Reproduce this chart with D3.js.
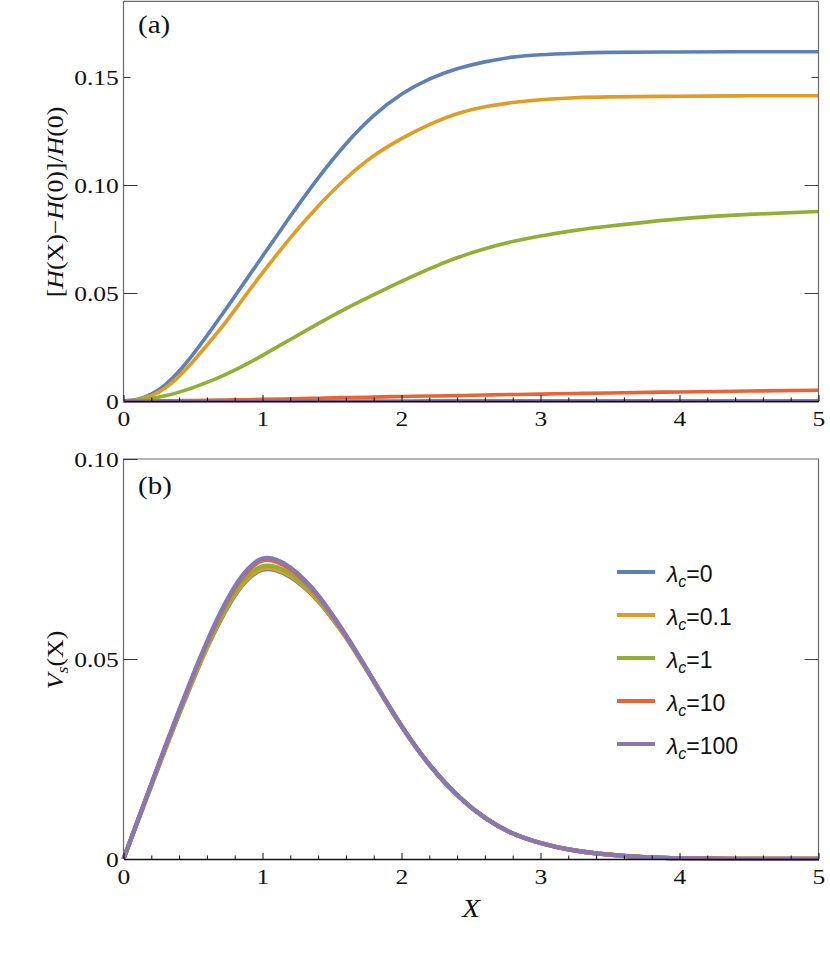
<!DOCTYPE html>
<html><head><meta charset="utf-8">
<script src="https://cdn.jsdelivr.net/npm/d3@7"></script>
<style>body{margin:0;background:#fff}</style>
</head><body>
<svg id="c" width="830" height="962"></svg>
<script>
// ---------- data ----------
const lambdaLabels = ["0", "0.1", "1", "10", "100"];
const colors = ["#5E81B5", "#E19C24", "#8FB032", "#EB6235", "#8778B3"];

// panel (a): [H(X)-H(0)]/H(0)
const xTop = [0,0.1,0.2,0.3,0.4,0.5,0.6,0.7,0.8,0.9,1.0,1.2,1.4,1.6,1.8,2.0,2.2,2.4,2.6,2.8,3.0,3.25,3.5,4.0,4.5,5.0];
const hL0   = [0,0.0008,0.0032,0.0075,0.0138,0.0216,0.0302,0.0392,0.0484,0.0577,0.0670,0.0855,0.1032,0.1190,0.1321,0.1420,0.1490,0.1538,0.1570,0.1592,0.1603,0.1610,0.1614,0.1616,0.1617,0.1617];
const hL01  = [0,0.0006,0.0025,0.0060,0.0115,0.0183,0.0258,0.0336,0.0421,0.0508,0.0593,0.0755,0.0902,0.1030,0.1135,0.1215,0.1280,0.1330,0.1362,0.1382,0.1395,0.1404,0.1408,0.1411,0.1413,0.1413];
const hL1   = [0,0.0003,0.0011,0.0024,0.0041,0.0062,0.0086,0.0113,0.0143,0.0176,0.0211,0.0285,0.0358,0.0428,0.0492,0.0554,0.0612,0.0663,0.0705,0.0738,0.0764,0.0790,0.0810,0.0843,0.0864,0.0877];
const hL10  = [0,0.00002,0.00005,0.0001,0.00015,0.0002,0.0003,0.0004,0.0005,0.0006,0.0008,0.0010,0.0013,0.0016,0.0018,0.0021,0.0023,0.0025,0.0028,0.0030,0.0032,0.0035,0.0037,0.0042,0.0046,0.0050];
const hL100 = [0,0,0,0,0,0,0,0,0,0,0.00001,0.00001,0.00002,0.00002,0.00003,0.00003,0.00004,0.00004,0.00005,0.00005,0.00006,0.00006,0.00007,0.00008,0.00009,0.0001];

// panel (b): V_s(X)
const xBot = [0,0.1,0.2,0.3,0.4,0.5,0.6,0.7,0.8,0.9,1.0,1.1,1.2,1.3,1.4,1.5,1.6,1.7,1.8,2.0,2.2,2.4,2.6,2.8,3.0,3.2,3.4,3.6,3.8,4.0,4.5,5.0];
const vL0   = [0,0.0092,0.0183,0.0274,0.0362,0.0447,0.0527,0.0598,0.0658,0.0701,0.0723,0.0721,0.0705,0.0679,0.0645,0.0602,0.0554,0.0500,0.0444,0.0332,0.0236,0.0160,0.0103,0.0064,0.0040,0.0024,0.0014,0.0008,0.0004,0.0002,0.00004,0.00001];
const vL01  = [0,0.0092,0.0184,0.0275,0.0364,0.0449,0.0529,0.0601,0.0661,0.0704,0.0726,0.0724,0.0708,0.0681,0.0647,0.0603,0.0555,0.0501,0.0444,0.0332,0.0236,0.0160,0.0103,0.0064,0.0040,0.0024,0.0014,0.0008,0.0004,0.0002,0.00004,0.00001];
const vL1   = [0,0.0093,0.0185,0.0277,0.0366,0.0452,0.0533,0.0605,0.0666,0.0710,0.0732,0.0730,0.0713,0.0685,0.0650,0.0605,0.0556,0.0502,0.0445,0.0332,0.0236,0.0160,0.0103,0.0064,0.0040,0.0024,0.0014,0.0008,0.0004,0.0002,0.00004,0.00001];
const vL10  = [0,0.0094,0.0187,0.0280,0.0370,0.0457,0.0540,0.0614,0.0677,0.0722,0.0746,0.0743,0.0724,0.0695,0.0657,0.0610,0.0558,0.0503,0.0445,0.0333,0.0236,0.0160,0.0103,0.0064,0.0040,0.0024,0.0014,0.0008,0.0004,0.0002,0.00004,0.00001];
const vL100 = [0,0.0094,0.0188,0.0281,0.0372,0.0460,0.0543,0.0618,0.0681,0.0727,0.0751,0.0748,0.0729,0.0699,0.0660,0.0612,0.0560,0.0504,0.0446,0.0333,0.0236,0.0160,0.0103,0.0064,0.0040,0.0024,0.0014,0.0008,0.0004,0.0002,0.00004,0.00001];

const xTickValues = [0, 1, 2, 3, 4, 5];
const topYTicks = [0, 0.05, 0.10, 0.15];
const topYTickLabels = ["0", "0.05", "0.10", "0.15"];
const botYTicks = [0, 0.05, 0.10];
const botYTickLabels = ["0", "0.05", "0.10"];

// ---------- drawing ----------
const svg = d3.select("#c");
const SERIF = "Liberation Serif";
const SANS = "Liberation Sans";
const SX = 1.16;

const x = d3.scaleLinear([0, 5], [123.5, 818.5]);
const yTop = d3.scaleLinear([0, 0.185], [401, 1.4]);
const yBot = d3.scaleLinear([0, 0.1], [859, 459]);

function panel(y, yTicks, yLabels, seriesX, seriesY, sw) {
  const g = svg.append("g");
  const [y0, y1] = [y.range()[0], y.range()[1]];
  const [x0, x1] = x.range();
  const line = d3.line().x(d => x(d[0])).y(d => y(d[1])).curve(d3.curveNatural);
  seriesY.forEach((vals, i) => {
    g.append("path")
      .datum(seriesX.map((xv, k) => [xv, vals[k]]))
      .attr("d", line)
      .attr("fill", "none")
      .attr("stroke", colors[i])
      .attr("stroke-width", sw)
      .attr("stroke-linejoin", "round");
  });
  // frame (left, top, right)
  g.append("path")
    .attr("d", `M${x0},${y0}V${y1}H${x1}V${y0}`)
    .attr("fill", "none").attr("stroke", "#6b6b6b").attr("stroke-width", 1.2);

  // bottom axis (major)
  const ax = g.append("g").attr("transform", `translate(0,${y0})`)
    .call(d3.axisBottom(x).tickValues(xTickValues).tickSizeInner(-6).tickSizeOuter(0).tickPadding(9)
      .tickFormat(d3.format("d")));
  ax.select(".domain").attr("stroke", "#111").attr("stroke-width", 1.4);
  ax.selectAll(".tick line").attr("stroke", "#111");
  ax.selectAll(".tick text").attr("font-family", SERIF).attr("font-size", 22).attr("fill", "#111")
    .attr("transform", `scale(${SX},1)`);
  // bottom axis (minor)
  const minor = d3.range(1, 25).map(k => k * 0.2).filter(v => Math.abs(v - Math.round(v)) > 1e-6);
  const axm = g.append("g").attr("transform", `translate(0,${y0})`)
    .call(d3.axisBottom(x).tickValues(minor).tickSizeInner(-3.5).tickSizeOuter(0).tickFormat(""));
  axm.select(".domain").remove();
  axm.selectAll(".tick line").attr("stroke", "#111");

  // left axis
  const ay = g.append("g").attr("transform", `translate(${x0},0)`)
    .call(d3.axisLeft(y).tickValues(yTicks).tickSizeInner(-14).tickSizeOuter(0).tickPadding(4)
      .tickFormat((d, i) => yLabels[i]));
  ay.select(".domain").remove();
  ay.selectAll(".tick line").attr("stroke", "#333")
    .attr("x2", d => d === 0 ? 0 : (Math.abs(d - 0.15) < 1e-9 ? 7 : 14));
  ay.selectAll(".tick text").attr("font-family", SERIF).attr("font-size", 22).attr("fill", "#111")
    .attr("transform", `scale(${SX},1)`);
  // right axis ticks
  const ar = g.append("g").attr("transform", `translate(${x1},0)`)
    .call(d3.axisRight(y).tickValues(yTicks.filter(v => v > 0 && y(v) > y1 + 2)).tickSizeInner(-14).tickSizeOuter(0).tickFormat(""));
  ar.select(".domain").remove();
  ar.selectAll(".tick line").attr("stroke", "#444")
    .attr("x2", d => (Math.abs(d - 0.15) < 1e-9 ? -7 : -14));
  return g;
}

panel(yTop, topYTicks, topYTickLabels, xTop, [hL0, hL01, hL1, hL10, hL100], 3.6);
panel(yBot, botYTicks, botYTickLabels, xBot, [vL0, vL01, vL1, vL10, vL100], 4.2);

// panel tags
svg.append("text").attr("transform", `translate(138,33) scale(${SX},1)`)
  .attr("font-family", SERIF).attr("font-size", 25).attr("fill", "#111").text("(a)");
svg.append("text").attr("transform", `translate(138,494) scale(${SX},1)`)
  .attr("font-family", SERIF).attr("font-size", 25).attr("fill", "#111").text("(b)");

// y labels
const YSX = 1.12;
const yl1 = svg.append("text").attr("transform", `translate(63,202) rotate(-90) scale(${YSX},1)`)
  .attr("text-anchor", "middle").attr("font-family", SERIF).attr("font-size", 23).attr("fill", "#111");
[["[", false], ["H", true], ["(X)\u2212", false], ["H", true], ["(0)]/", false], ["H", true], ["(0)", false]]
  .forEach(([t, it]) => yl1.append("tspan").attr("font-style", it ? "italic" : "normal").text(t));

const yl2 = svg.append("text").attr("transform", `translate(63,660) rotate(-90) scale(${YSX},1)`)
  .attr("text-anchor", "middle").attr("font-family", SERIF).attr("font-size", 23).attr("fill", "#111");
yl2.append("tspan").attr("font-style", "italic").text("V");
yl2.append("tspan").attr("font-style", "italic").attr("font-size", 16).attr("dy", 5).text("s");
yl2.append("tspan").attr("dy", -5).text("(X)");

// x label
svg.append("text").attr("transform", `translate(471,917) scale(${SX},1)`)
  .attr("text-anchor", "middle").attr("font-family", SERIF).attr("font-style", "italic")
  .attr("font-size", 25).attr("fill", "#111").text("X");

// legend
const leg = svg.append("g");
lambdaLabels.forEach((lab, i) => {
  const ly = 572 + i * 43;
  leg.append("line").attr("x1", 617).attr("x2", 655).attr("y1", ly).attr("y2", ly)
    .attr("stroke", colors[i]).attr("stroke-width", 4);
  const t = leg.append("text").attr("x", 667).attr("y", ly + 9.5)
    .attr("font-family", SANS).attr("font-size", 23).attr("fill", "#111");
  t.append("tspan").attr("font-style", "italic").text("\u03bb");
  t.append("tspan").attr("font-style", "italic").attr("font-size", 16).attr("dy", 5).text("c");
  t.append("tspan").attr("dy", -5).text("=" + lab);
});
</script>
</body></html>
